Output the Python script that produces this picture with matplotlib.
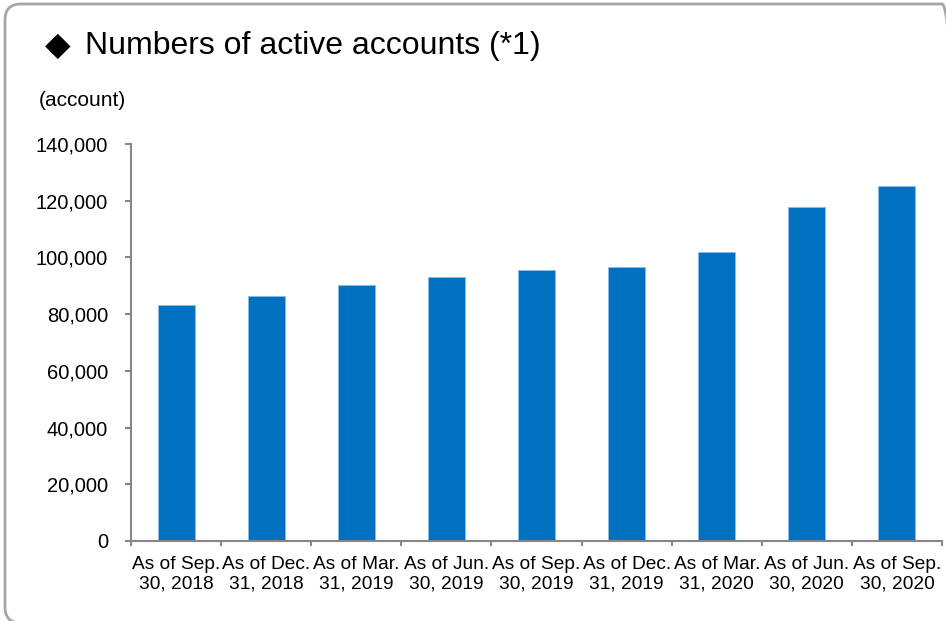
import numpy as np
import matplotlib.pyplot as plt
from matplotlib.patches import FancyBboxPatch

plt.rcParams['font.family'] = ['Liberation Sans', 'DejaVu Sans']

categories = ["As of Sep.\n30, 2018", "As of Dec.\n31, 2018", "As of Mar.\n31, 2019",
              "As of Jun.\n30, 2019", "As of Sep.\n30, 2019", "As of Dec.\n31, 2019",
              "As of Mar.\n31, 2020", "As of Jun.\n30, 2020", "As of Sep.\n30, 2020"]
accounts = [83100, 86500, 90400, 93100, 95600, 96600, 101900, 117800, 125100]
yticks = [0, 20000, 40000, 60000, 80000, 100000, 120000, 140000]

W, H = 946, 621
fig = plt.figure(figsize=(W / 100, H / 100), dpi=100)

# rounded frame around the whole chart (inches), runs off the right/bottom edge
frame = FancyBboxPatch((0.05, -0.02), 9.53, 6.19,
                       boxstyle="round,pad=0,rounding_size=0.16",
                       transform=fig.dpi_scale_trans, fill=False,
                       edgecolor="#a6a6a6", linewidth=2, clip_on=False)
fig.patches.append(frame)

ax = fig.add_axes([131 / W, (H - 541) / H, (942 - 131) / W, (541 - 144) / H])
x = np.arange(len(categories))
ax.bar(x, accounts, width=0.41, color="#0070C0", edgecolor="#8cbde6", linewidth=0.6)

ax.set_xlim(-0.5, len(categories) - 0.5)
ax.set_ylim(0, 140000)
ax.set_yticks(yticks)
ax.set_yticklabels([f"{v:,}" for v in yticks], fontsize=14.5)
ax.tick_params(axis="y", length=4.5, width=1.5, color="#868686", pad=12)

ax.set_xticks(x)
ax.set_xticklabels(categories, fontsize=13.8, linespacing=1.2)
ax.set_xticks(np.arange(len(categories) + 1) - 0.5, minor=True)
ax.tick_params(axis="x", which="major", length=0, pad=11)
ax.tick_params(axis="x", which="minor", length=3.5, width=1.5, color="#868686")

for s in ["top", "right"]:
    ax.spines[s].set_visible(False)
for s in ["left", "bottom"]:
    ax.spines[s].set_color("#868686")
    ax.spines[s].set_linewidth(1.5)

fig.text(45 / W, 1 - 46 / H, "◆", fontsize=24, ha="left", va="center")
fig.text(85 / W, 1 - 46 / H, "Numbers of active accounts (*1)", fontsize=23,
         ha="left", va="center")
fig.text(39 / W, 1 - 101 / H, "(account)", fontsize=15, ha="left", va="center")

plt.savefig("out.png", dpi=100)
